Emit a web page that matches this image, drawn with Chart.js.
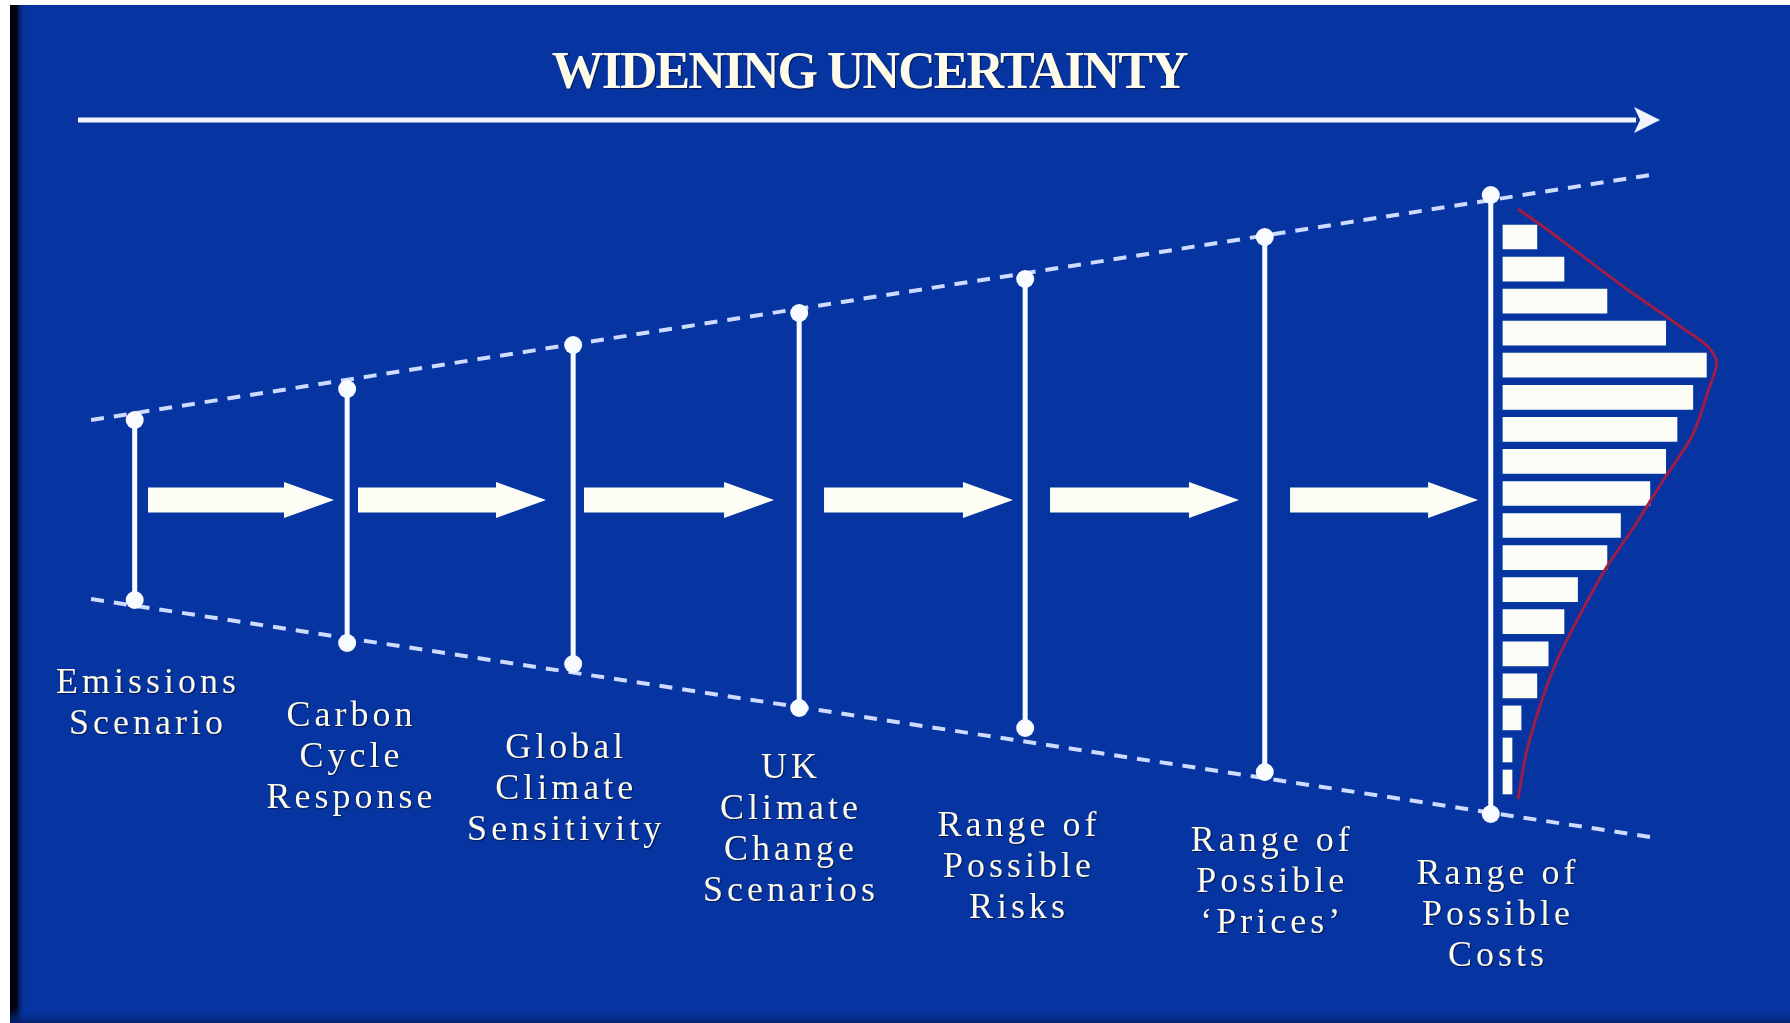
<!DOCTYPE html>
<html>
<head>
<meta charset="utf-8">
<title>Widening uncertainty</title>
<script src="https://cdn.jsdelivr.net/npm/chart.js@4.4.1/dist/chart.umd.min.js"></script>
<style>
  html, body { margin: 0; padding: 0; background: #ffffff; overflow: hidden; }
  #c { display: block; }
</style>
</head>
<body>
<canvas id="c" width="1790" height="1023"></canvas>
<script>
// x: position along the chain of stages (stage units); y: spread of outcomes (0 = flow axis)

const titleText = 'WIDENING UNCERTAINTY';
const titleX = 3.254;
const titleY = 4.12;

const stageNames = ['Emissions Scenario', 'Carbon Cycle Response', 'Global Climate Sensitivity',
  'UK Climate Change Scenarios', 'Range of Possible Risks', 'Range of Possible Prices', 'Range of Possible Costs'];
const stageX    = [0, 0.94, 1.94, 2.94, 3.94, 5.0, 6.0];
const stageHigh = [0.80, 1.11, 1.55, 1.87, 2.21, 2.63, 3.05];
const stageLow  = [-1.00, -1.43, -1.64, -2.08, -2.28, -2.72, -3.14];

const stageLabels = [
  ['Emissions', 'Scenario'],
  ['Carbon', 'Cycle', 'Response'],
  ['Global', 'Climate', 'Sensitivity'],
  ['UK', 'Climate', 'Change', 'Scenarios'],
  ['Range of', 'Possible', 'Risks'],
  ['Range of', 'Possible', '\u2018Prices\u2019'],
  ['Range of', 'Possible', 'Costs']
];
const labelX = [0.050, 0.950, 1.900, 2.895, 3.904, 5.024, 6.023];
const labelY = [-1.93, -2.26, -2.58, -2.78, -3.36, -3.51, -3.84];

// dashed envelope of the widening range
const envelopeX    = [-0.193, 6.705];
const envelopeHigh = [0.80, 3.25];
const envelopeLow  = [-0.99, -3.37];

// headline arrow across the top
const headlineX = [-0.251, 6.643];
const headlineY = 3.80;

// block arrows linking the stages
const flowFrom = [0.059, 0.988, 1.988, 3.050, 4.050, 5.112];
const flowTo   = [0.882, 1.820, 2.829, 3.886, 4.886, 5.944];
const flowY = 0;

// distribution of possible costs
const costBase = 6.054;
const costUnit = 0.01;
const costBinY = [2.630, 2.309, 1.989, 1.668, 1.348, 1.027, 0.706, 0.386, 0.065,
  -0.255, -0.576, -0.897, -1.217, -1.538, -1.858, -2.179, -2.500, -2.820];
const costCounts = [15, 27, 46, 72, 90, 84, 77, 72, 65, 52, 46, 33, 27, 20, 15, 8, 4, 4];

// fitted density curve over the cost distribution
const curveX = [6.121, 6.276, 6.577, 6.829, 6.958, 7.000, 6.966, 6.895, 6.767, 6.639, 6.502, 6.392, 6.290, 6.215, 6.157, 6.121];
const curveY = [2.91, 2.66, 2.15, 1.75, 1.54, 1.37, 1.12, 0.66, 0.21, -0.25, -0.71, -1.16, -1.62, -2.08, -2.53, -2.99];

const BLUE = '#0634a1';
const WHITE = '#f8fbff';
const DASH = '#cddbff';
const INK = '#fffbe9';
const SERIF = '"Liberation Serif", "Times New Roman", Times, serif';

const pts = (xs, ys) => xs.map((x, i) => ({ x, y: ys[i] }));

const datasets = [];
datasets.push({
  type: 'line', label: 'Upper bound', order: 6,
  data: pts(envelopeX, envelopeHigh),
  borderColor: DASH, borderWidth: 4, borderDash: [13, 10], pointRadius: 0, tension: 0
});
datasets.push({
  type: 'line', label: 'Lower bound', order: 6,
  data: pts(envelopeX, envelopeLow),
  borderColor: DASH, borderWidth: 4, borderDash: [13, 10], pointRadius: 0, tension: 0
});
datasets.push({
  type: 'line', label: 'Headline', order: 5,
  data: pts(headlineX, headlineX.map(() => headlineY)),
  borderColor: '#eef3ff', borderWidth: 5, pointRadius: 0, tension: 0
});
datasets.push({
  type: 'bar', label: 'Cost distribution', order: 3, indexAxis: 'y',
  data: costBinY.map((y, i) => ({ x: [costBase, costBase + costCounts[i] * costUnit], y })),
  backgroundColor: '#fdfdf8', borderWidth: 0, barThickness: 24
});
datasets.push({
  type: 'line', label: 'Density', order: 2,
  data: pts(curveX, curveY),
  borderColor: '#9e1d48', borderWidth: 3, pointRadius: 0, tension: 0.3
});
stageX.forEach((x, i) => {
  datasets.push({
    type: 'line', label: stageNames[i], order: 1,
    data: [{ x, y: stageHigh[i] }, { x, y: stageLow[i] }],
    borderColor: WHITE, borderWidth: 5,
    pointRadius: 9, pointBackgroundColor: WHITE, pointBorderWidth: 0, tension: 0
  });
});

const backdrop = {
  id: 'backdrop',
  beforeDraw(chart) {
    const { ctx, width, height } = chart;
    ctx.save();
    ctx.fillStyle = '#ffffff';
    ctx.fillRect(0, 0, width, height);
    ctx.fillStyle = BLUE;
    ctx.fillRect(10, 5, width - 10, height - 5);
    const edge = ctx.createLinearGradient(10, 0, 25, 0);
    edge.addColorStop(0, '#000000');
    edge.addColorStop(0.45, '#000814');
    edge.addColorStop(1, 'rgba(6,52,161,0)');
    ctx.fillStyle = edge;
    ctx.fillRect(10, 5, 15, height - 5);
    const foot = ctx.createLinearGradient(0, 1008, 0, height);
    foot.addColorStop(0, 'rgba(6,52,161,0)');
    foot.addColorStop(1, '#06226e');
    ctx.fillStyle = foot;
    ctx.fillRect(10, 1008, width - 10, height - 1008);
    ctx.restore();
  }
};

const overlay = {
  id: 'overlay',
  afterDatasetsDraw(chart) {
    const { ctx } = chart;
    const sx = chart.scales.x, sy = chart.scales.y;
    ctx.save();

    // block arrows between stages
    ctx.fillStyle = '#fdfdf6';
    const yc = sy.getPixelForValue(flowY);
    flowFrom.forEach((f, i) => {
      const x0 = sx.getPixelForValue(f);
      const x1 = sx.getPixelForValue(flowTo[i]);
      const hl = 50, sh = 12.5, hh = 18;
      ctx.beginPath();
      ctx.moveTo(x0, yc - sh);
      ctx.lineTo(x1 - hl, yc - sh);
      ctx.lineTo(x1 - hl, yc - hh);
      ctx.lineTo(x1, yc);
      ctx.lineTo(x1 - hl, yc + hh);
      ctx.lineTo(x1 - hl, yc + sh);
      ctx.lineTo(x0, yc + sh);
      ctx.closePath();
      ctx.fill();
    });

    // head of the headline arrow
    const hMeta = chart.getDatasetMeta(2);
    const end = hMeta.data[hMeta.data.length - 1];
    ctx.fillStyle = '#eef3ff';
    ctx.beginPath();
    ctx.moveTo(end.x - 2, end.y - 13);
    ctx.lineTo(end.x + 24, end.y);
    ctx.lineTo(end.x - 2, end.y + 13);
    ctx.lineTo(end.x + 4, end.y);
    ctx.closePath();
    ctx.fill();

    // text
    ctx.shadowColor = 'rgba(0,0,30,0.55)';
    ctx.shadowOffsetX = 1;
    ctx.shadowOffsetY = 1;
    ctx.shadowBlur = 1;
    ctx.fillStyle = INK;
    ctx.textAlign = 'center';
    ctx.textBaseline = 'alphabetic';

    ctx.font = 'bold 52px ' + SERIF;
    ctx.letterSpacing = '-2px';
    ctx.fillText(titleText, sx.getPixelForValue(titleX) - 1, sy.getPixelForValue(titleY));

    ctx.font = '36px ' + SERIF;
    ctx.letterSpacing = '4px';
    stageLabels.forEach((lines, i) => {
      const cx = sx.getPixelForValue(labelX[i]) + 2;
      const by = sy.getPixelForValue(labelY[i]);
      lines.forEach((t, j) => ctx.fillText(t, cx, by + j * 41));
    });
    ctx.restore();
  }
};

new Chart(document.getElementById('c'), {
  type: 'line',
  data: { datasets },
  options: {
    responsive: false,
    animation: false,
    events: [],
    layout: { padding: 0, autoPadding: false },
    scales: {
      x: { type: 'linear', min: -0.596, max: 7.324, display: false, offset: false },
      y: { type: 'linear', min: -5.23, max: 5.00, display: false, offset: false, beginAtZero: false }
    },
    plugins: { legend: { display: false }, tooltip: { enabled: false }, title: { display: false } }
  },
  plugins: [backdrop, overlay]
});
</script>
</body>
</html>
